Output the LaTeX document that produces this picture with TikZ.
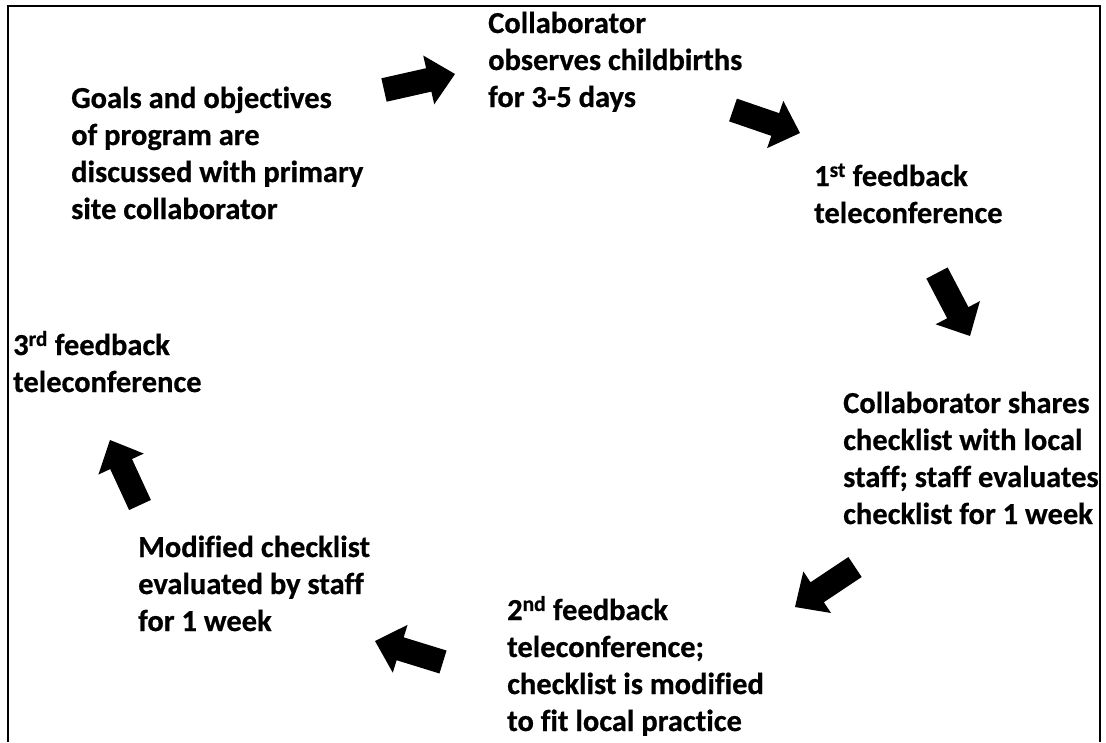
\documentclass[tikz,border=0pt]{standalone}
\usepackage{fontspec}
\setmainfont{Carlito}[Ligatures=CommonOff,FakeBold=0.6]
\usetikzlibrary{calc}
\newcommand\blockarrow[3]{%
  \coordinate (#1t) at (#2);
  \coordinate (#1h) at (#3);
  \coordinate (#1p) at ($(#1t)!0.63!(#1h)$);
  \fill[black] ($(#1t)!12pt!90:(#1h)$) -- ($(#1p)!12pt!90:(#1h)$) -- ($(#1p)!25pt!90:(#1h)$)
    -- (#1h) -- ($(#1p)!25pt!-90:(#1h)$) -- ($(#1p)!12pt!-90:(#1h)$) -- ($(#1t)!12pt!-90:(#1h)$) -- cycle;}
\begin{document}
\begin{tikzpicture}[x=1pt,y=-1pt,
  txt/.style={anchor=base west, inner sep=0pt, font=\fontsize{30.5}{37}\selectfont\bfseries}]
\useasboundingbox (0,0) rectangle (1106,742);
\fill[white] (0,0) rectangle (1106,742);
\draw[line width=2pt] (8,742) -- (8,6) -- (1100,6) -- (1100,742);

\node[txt] (goals) at (71,108) {\vtop{\hbox{Goals and objectives}\hbox{of program are}\hbox{discussed with primary}\hbox{site collaborator}}};
\node[txt] (observe) at (488,33) {\vtop{\hbox{Collaborator}\hbox{observes childbirths}\hbox{for 3-5 days}}};
\node[txt] (fb1) at (814,186) {\vtop{\hbox{1\textsuperscript{st} feedback}\hbox{teleconference}}};
\node[txt] (share) at (843,413) {\vtop{\hbox{Collaborator shares}\hbox{checklist with local}\hbox{staff; staff evaluates}\hbox{checklist for 1 week}}};
\node[txt] (fb2) at (507,620) {\vtop{\hbox{2\textsuperscript{nd} feedback}\hbox{teleconference;}\hbox{checklist is modified}\hbox{to fit local practice}}};
\node[txt] (modified) at (138,557) {\vtop{\hbox{Modified checklist}\hbox{evaluated by staff}\hbox{for 1 week}}};
\node[txt] (fb3) at (13,355) {\vtop{\hbox{3\textsuperscript{rd} feedback}\hbox{teleconference}}};

\blockarrow{a1}{384,90}{455,74}
\blockarrow{a2}{733,110}{800,133}
\blockarrow{a3}{937,273}{970,336}
\blockarrow{a4}{855,567}{795,607}
\blockarrow{a5}{443,662}{375,641}
\blockarrow{a6}{140,505}{110,440}
\end{tikzpicture}
\end{document}
